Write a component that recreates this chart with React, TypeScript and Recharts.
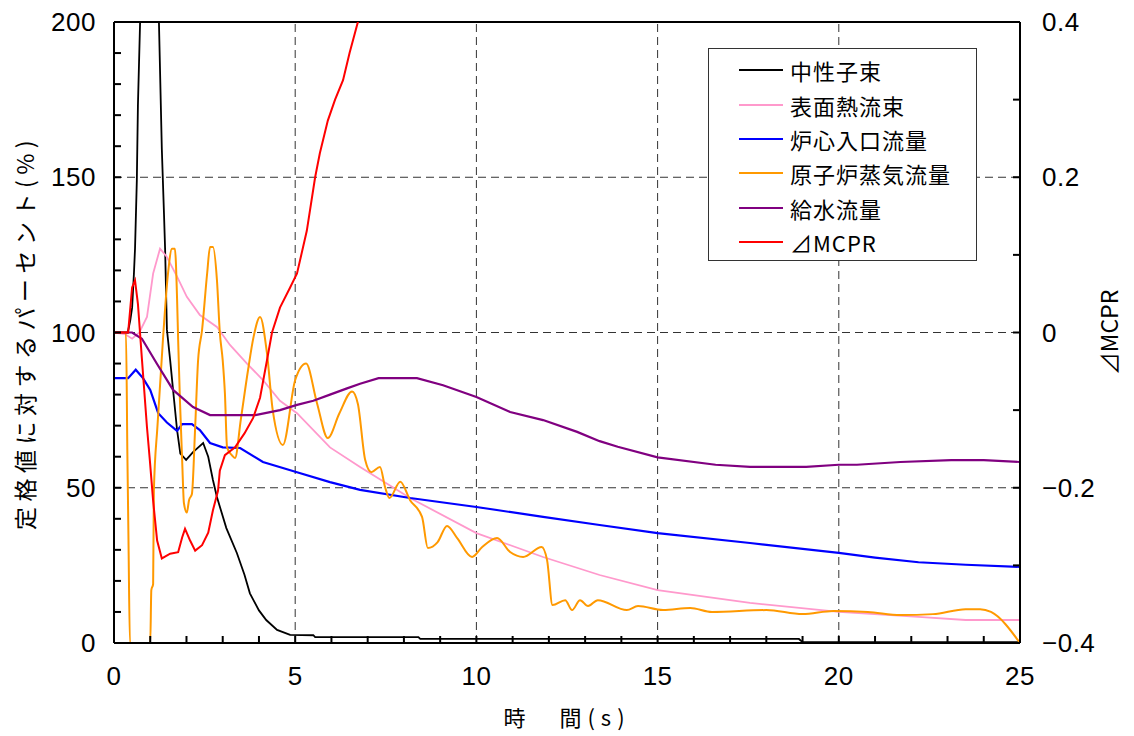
import React from 'react';
import { LineChart, Line, XAxis, YAxis, ReferenceLine, Legend } from 'recharts';

type Pt = [number, number];

// time (s), percent of rated value
const neutronFlux: Pt[] = [
  [0, 100], [0.38, 100], [0.45, 104], [0.5, 108], [0.55, 119], [0.58, 127], [0.63, 149], [0.66, 173],
  [0.72, 200], [0.95, 300], [1.24, 200], [1.32, 159], [1.38, 138], [1.41, 127], [1.46, 101], [1.55, 91],
  [1.63, 81.5], [1.74, 68.6], [1.83, 61], [1.99, 59], [2.18, 61.5], [2.46, 64.4], [2.6, 60], [2.73, 52.5],
  [2.84, 47], [3.1, 37], [3.39, 29], [3.6, 22], [3.75, 16], [4.0, 10.5], [4.2, 7.4], [4.5, 4.2],
  [4.86, 2.6], [5.5, 2.5], [5.55, 1.9], [8.4, 1.9], [8.45, 1.3], [18.9, 1.3], [19.0, 0.3], [25, 0.3],
];

const surfaceHeatFlux: Pt[] = [
  [0, 100], [0.3, 99.5], [0.5, 98], [0.7, 100], [0.91, 105], [1.08, 119], [1.27, 127], [1.45, 124.5],
  [1.74, 118], [2.01, 111.5], [2.37, 105.6], [2.84, 101.8], [3.2, 96], [3.67, 90], [4.11, 84.7], [4.58, 78],
  [5.05, 74], [5.96, 63], [6.79, 56.7], [8.17, 46.7], [10, 35.4], [11.84, 27.7], [13.4, 21.9], [15, 17],
  [17.55, 12.9], [20, 10], [22.2, 8.4], [23.5, 7.4], [25, 7.4],
];

const coreInletFlow: Pt[] = [
  [0, 85.3], [0.39, 85.3], [0.6, 88], [0.8, 85.3], [1.0, 81.5], [1.22, 74], [1.46, 71], [1.74, 68.3],
  [1.88, 70.5], [2.15, 70.5], [2.37, 68.6], [2.65, 64.4], [3.0, 63], [3.48, 62.8], [4.11, 58.3], [5.05, 55],
  [5.96, 51.8], [6.79, 49.3], [8.17, 46.7], [10, 43.8], [11.84, 40.6], [13.4, 38], [15, 35.4], [17.55, 32.2],
  [20, 29], [21, 27.5], [22.2, 26], [23.5, 25.2], [25, 24.5],
];

const steamFlow: Pt[] = [
  [0, 100], [0.33, 100], [0.37, 60], [0.4, 33], [0.44, 0], [1.0, 0], [1.03, 17], [1.08, 19], [1.1, 49],
  [1.2, 70], [1.35, 97.6], [1.49, 119], [1.6, 127], [1.68, 127], [1.74, 111], [1.77, 97.6], [1.82, 78],
  [1.88, 59], [1.93, 45], [2.01, 42], [2.07, 46], [2.15, 48], [2.24, 69.6], [2.32, 91], [2.43, 100.8],
  [2.57, 119], [2.65, 127.5], [2.73, 127.5], [2.84, 117], [2.92, 100], [3.0, 91], [3.06, 80.5], [3.12, 63],
  [3.25, 60.5], [3.34, 59.6], [3.5, 72], [3.7, 88], [3.85, 98.5], [4.03, 105], [4.22, 93.4], [4.38, 75],
  [4.66, 63.8], [5.0, 84.7], [5.3, 90], [5.6, 77.3], [5.9, 66], [6.22, 74], [6.57, 81], [6.73, 77],
  [6.93, 59], [7.1, 55], [7.34, 56.7], [7.48, 50.2], [7.6, 46.7], [7.9, 51.9], [8.17, 46], [8.5, 40.6],
  [8.66, 30.6], [8.93, 32.5], [9.19, 37.7], [9.47, 33.8], [9.88, 27.7], [10.16, 30.9], [10.57, 33.8],
  [10.93, 29.3], [11.29, 27.7], [11.8, 30.9], [11.95, 26.7], [12.1, 12.2], [12.45, 13.8], [12.64, 10.6],
  [12.86, 13.8], [13.08, 11.9], [13.35, 13.8], [14.15, 10.6], [14.46, 11.9], [15.15, 10.6], [15.9, 11.3],
  [16.5, 10], [18.0, 10.6], [19.0, 9.3], [19.85, 10.3], [20.8, 10], [21.7, 9], [22.6, 9.3], [23.5, 10.9],
  [23.9, 10.9], [24.2, 10], [25, 0],
];

const feedwaterFlow: Pt[] = [
  [0, 100], [0.5, 100], [0.77, 98], [1.18, 90], [1.63, 81.5], [2.18, 76], [2.65, 73.4], [3.9, 73.4],
  [4.58, 75], [5.05, 76.7], [5.5, 78], [5.96, 80], [6.43, 82], [6.79, 83.5], [7.3, 85.3], [8.36, 85.3],
  [9.08, 83], [10, 79.2], [10.93, 74.4], [11.84, 71.8], [12.78, 68], [13.4, 65], [13.9, 63.2], [15, 59.8],
  [16.6, 57.4], [17.55, 56.7], [19.1, 56.7], [20, 57.4], [20.5, 57.4], [21.7, 58.3], [23.1, 58.9], [24, 58.9],
  [25, 58.3],
];

// right axis
const deltaMCPR: Pt[] = [
  [0, 0], [0.39, 0], [0.5, 0.058], [0.58, 0.067], [0.66, 0.037], [0.77, -0.034], [0.91, -0.122], [0.99, -0.165],
  [1.08, -0.217], [1.19, -0.268], [1.32, -0.291], [1.55, -0.285], [1.77, -0.283], [1.88, -0.264], [1.96, -0.253],
  [2.1, -0.268], [2.24, -0.281], [2.43, -0.274], [2.6, -0.258], [2.73, -0.229], [2.87, -0.204], [2.92, -0.178],
  [3.06, -0.158], [3.34, -0.148], [3.6, -0.13], [3.84, -0.11], [4.03, -0.084], [4.22, -0.036], [4.36, 0],
  [4.58, 0.032], [4.86, 0.058], [5.05, 0.076], [5.32, 0.131], [5.55, 0.2], [5.68, 0.231], [5.9, 0.273],
  [6.1, 0.3], [6.32, 0.325], [6.5, 0.36], [6.73, 0.4], [7.0, 0.45],
];

const xTicks = [0, 1, 2, 3, 4, 5, 6, 7, 8, 9, 10, 11, 12, 13, 14, 15, 16, 17, 18, 19, 20, 21, 22, 23, 24, 25];
const xLabels = [0, 5, 10, 15, 20, 25];
const leftTicks = [0, 10, 20, 30, 40, 50, 60, 70, 80, 90, 100, 110, 120, 130, 140, 150, 160, 170, 180, 190, 200];
const leftLabels = [0, 50, 100, 150, 200];
const rightTicks = [-0.4, -0.3, -0.2, -0.1, 0, 0.1, 0.2, 0.3, 0.4];
const rightLabels: Record<string, string> = { '-0.4': '−0.4', '-0.2': '−0.2', '0': '0', '0.2': '0.2', '0.4': '0.4' };
const xGrid = [5, 10, 15, 20];
const yGrid = [50, 100, 150];

const series = [
  { name: '中性子束', pts: neutronFlux, color: '#000000', axis: 'left', w: 1.8, curve: 'linear' },
  { name: '表面熱流束', pts: surfaceHeatFlux, color: '#ff99cc', axis: 'left', w: 1.8, curve: 'linear' },
  { name: '炉心入口流量', pts: coreInletFlow, color: '#0000ff', axis: 'left', w: 2.2, curve: 'linear' },
  { name: '原子炉蒸気流量', pts: steamFlow, color: '#ff9900', axis: 'left', w: 2, curve: 'monotoneX' },
  { name: '給水流量', pts: feedwaterFlow, color: '#800080', axis: 'left', w: 2.2, curve: 'linear' },
  { name: '⊿MCPR', pts: deltaMCPR, color: '#ff0000', axis: 'right', w: 2, curve: 'linear' },
];

const NUM_FONT = '"Liberation Sans", Arial, sans-serif';
const JP_FONT = '"Noto Sans CJK JP", sans-serif';
const NUM_SIZE = 26;

const LeftTick = (props: any) => {
  const { x, y, payload } = props;
  return (
    <g>
      <line x1={x} x2={x + 7} y1={y} y2={y} stroke="#000" strokeWidth={2} />
      {leftLabels.includes(payload.value) && (
        <text x={x - 18} y={y} dy={9} textAnchor="end" fontSize={NUM_SIZE} letterSpacing={0.5} fontFamily={NUM_FONT} fill="#000">
          {payload.value}
        </text>
      )}
    </g>
  );
};

const RightTick = (props: any) => {
  const { x, y, payload } = props;
  const lab = rightLabels[String(payload.value)];
  return (
    <g>
      <line x1={x} x2={x - 7} y1={y} y2={y} stroke="#000" strokeWidth={2} />
      {lab && (
        <text x={x + 22} y={y} dy={9} textAnchor="start" fontSize={NUM_SIZE} letterSpacing={0.5} fontFamily={NUM_FONT} fill="#000">
          {lab}
        </text>
      )}
    </g>
  );
};

const BottomTick = (props: any) => {
  const { x, y, payload } = props;
  return (
    <g>
      <line x1={x} x2={x} y1={y} y2={y - 7} stroke="#000" strokeWidth={2} />
      {xLabels.includes(payload.value) && (
        <text x={x} y={y + 42} textAnchor="middle" fontSize={NUM_SIZE} letterSpacing={0.5} fontFamily={NUM_FONT} fill="#000">
          {payload.value}
        </text>
      )}
    </g>
  );
};

const LegendBox = () => (
  <div
    style={{
      width: 269,
      height: 213,
      boxSizing: 'border-box',
      border: '1px solid #333',
      background: '#fff',
      paddingTop: 4,
      paddingLeft: 30,
    }}
  >
    {series.map((s) => (
      <div key={s.name} style={{ display: 'flex', alignItems: 'center', height: 34.4 }}>
        <svg width={44} height={4} style={{ display: 'block' }}>
          <line x1={0} x2={44} y1={2} y2={2} stroke={s.color} strokeWidth={2} />
        </svg>
        <span style={{ marginLeft: 7, fontSize: 22, letterSpacing: 1, fontFamily: JP_FONT, color: '#000', lineHeight: 1 }}>
          {s.name}
        </span>
      </div>
    ))}
  </div>
);

export default function App() {
  return (
    <div style={{ position: 'absolute', left: 0, top: 0, width: 1134, height: 736, background: '#fff' }}>
      <LineChart width={1134} height={736} margin={{ top: 22, right: 0, bottom: 0, left: 0 }}>
        <XAxis
          type="number"
          dataKey="t"
          domain={[0, 25]}
          ticks={xTicks}
          allowDataOverflow
          height={93}
          tickSize={0}
          tickMargin={0}
          tickLine={false}
          axisLine={{ stroke: '#000', strokeWidth: 2 }}
          tick={<BottomTick />}
          interval={0}
          label={{
            value: '時　間(s)',
            position: 'insideBottom',
            offset: 10,
            style: { fontSize: 22, letterSpacing: 6, fontFamily: JP_FONT, fill: '#000' },
          }}
        />
        <YAxis
          yAxisId="left"
          type="number"
          domain={[0, 200]}
          ticks={leftTicks}
          allowDataOverflow
          width={114}
          tickSize={0}
          tickMargin={0}
          tickLine={false}
          interval={0}
          axisLine={{ stroke: '#000', strokeWidth: 2 }}
          tick={<LeftTick />}
          label={{
            value: '定格値に対するパーセント(%)',
            angle: -90,
            position: 'insideLeft',
            offset: 26,
            style: { fontSize: 23, letterSpacing: 5.5, fontFamily: JP_FONT, fill: '#000', textAnchor: 'middle' },
          }}
        />
        <YAxis
          yAxisId="right"
          orientation="right"
          type="number"
          domain={[-0.4, 0.4]}
          ticks={rightTicks}
          allowDataOverflow
          width={114}
          tickSize={0}
          tickMargin={0}
          tickLine={false}
          interval={0}
          axisLine={{ stroke: '#000', strokeWidth: 2 }}
          tick={<RightTick />}
          label={{
            value: '⊿MCPR',
            angle: -90,
            position: 'insideRight',
            offset: 24,
            style: { fontSize: 23, fontFamily: JP_FONT, fill: '#000', textAnchor: 'middle' },
          }}
        />
        {xGrid.map((v) => (
          <ReferenceLine key={'gx' + v} x={v} yAxisId="left" stroke="#333" strokeDasharray="8 5" strokeWidth={1} />
        ))}
        {yGrid.map((v) => (
          <ReferenceLine key={'gy' + v} y={v} yAxisId="left" stroke="#333" strokeDasharray="8 5" strokeWidth={1} />
        ))}
        <ReferenceLine y={200} yAxisId="left" stroke="#000" strokeWidth={2} />
        {series.map((s) => (
          <Line
            key={s.name}
            name={s.name}
            yAxisId={s.axis}
            data={s.pts.map(([t, v]) => ({ t, v }))}
            dataKey="v"
            type={s.curve as any}
            stroke={s.color}
            strokeWidth={s.w}
            dot={false}
            activeDot={false}
            isAnimationActive={false}
          />
        ))}
        <Legend
          layout="horizontal"
          verticalAlign="middle"
          align="center"
          content={<LegendBox />}
          wrapperStyle={{ left: 708, top: 48, width: 269 }}
        />
      </LineChart>
    </div>
  );
}
